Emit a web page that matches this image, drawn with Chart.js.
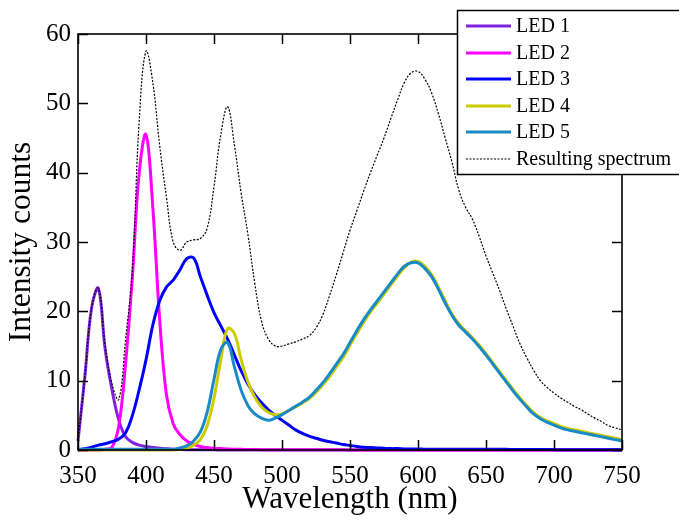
<!DOCTYPE html>
<html>
<head>
<meta charset="utf-8">
<title>LED spectra</title>
<script src="https://cdn.jsdelivr.net/npm/chart.js@4.4.1/dist/chart.umd.min.js"></script>
<style>
  html, body { margin: 0; padding: 0; background: #fff; }
  #spectra { display: block; }
</style>
</head>
<body>
<canvas id="spectra" width="679" height="520"></canvas>
<script>
// wavelength grid, 5 nm steps from 350 to 750
const wavelengths = [
  350, 355, 360, 365, 370, 375, 380, 385, 390, 395,
  400, 405, 410, 415, 420, 425, 430, 435, 440, 445,
  450, 455, 460, 465, 470, 475, 480, 485, 490, 495,
  500, 505, 510, 515, 520, 525, 530, 535, 540, 545,
  550, 555, 560, 565, 570, 575, 580, 585, 590, 595,
  600, 605, 610, 615, 620, 625, 630, 635, 640, 645,
  650, 655, 660, 665, 670, 675, 680, 685, 690, 695,
  700, 705, 710, 715, 720, 725, 730, 735, 740, 745,
  750
];

const led1 = [
  1.3, 10.5, 20.5, 23.3, 14.5, 8.7, 4.3, 1.9, 1.1, 0.7,
  0.5, 0.35, 0.25, 0.18, 0.12, 0.08, 0.05, 0.04, 0.03, 0.02,
  0.02, 0.01, 0, 0, 0, 0, 0, 0, 0, 0,
  0, 0, 0, 0, 0, 0, 0, 0, 0, 0,
  0, 0, 0, 0, 0, 0, 0, 0, 0, 0,
  0, 0, 0, 0, 0, 0, 0, 0, 0, 0,
  0, 0, 0, 0, 0, 0, 0, 0, 0, 0,
  0, 0, 0, 0, 0, 0, 0, 0, 0, 0,
  0
];

const led2 = [
  0, 0, 0, 0, 0.1, 0.4, 3.5, 12.5, 25, 40,
  45.5, 35, 19, 8, 3.8, 2.2, 1.3, 0.8, 0.5, 0.35,
  0.25, 0.2, 0.15, 0.12, 0.1, 0.08, 0.06, 0.05, 0.04, 0.03,
  0.03, 0.02, 0.02, 0.02, 0.02, 0.02, 0.02, 0.02, 0.02, 0.02,
  0.01, 0.01, 0.01, 0.01, 0.01, 0, 0, 0, 0, 0,
  0, 0, 0, 0, 0, 0, 0, 0, 0, 0,
  0, 0, 0, 0, 0, 0, 0, 0, 0, 0,
  0, 0, 0, 0, 0, 0, 0, 0, 0, 0,
  0
];

const led3 = [
  0, 0.2, 0.4, 0.7, 0.9, 1.2, 1.6, 2.5, 5, 8.7,
  13, 18, 21.5, 23.5, 24.5, 26, 27.6, 27.7, 25, 22.3,
  19.8, 17.9, 16, 13.7, 11.4, 9.5, 8, 6.8, 5.8, 5,
  4.3, 3.6, 2.9, 2.4, 2, 1.7, 1.4, 1.2, 1, 0.8,
  0.65, 0.5, 0.4, 0.35, 0.3, 0.25, 0.2, 0.2, 0.15, 0.15,
  0.15, 0.12, 0.12, 0.1, 0.1, 0.1, 0.1, 0.1, 0.1, 0.1,
  0.1, 0.1, 0.1, 0.1, 0.08, 0.08, 0.08, 0.08, 0.08, 0.08,
  0.05, 0.05, 0.05, 0.05, 0.05, 0.05, 0.05, 0.05, 0.05, 0.05,
  0.05
];

const led4 = [
  0, 0, 0, 0, 0, 0, 0, 0, 0, 0,
  0, 0, 0, 0, 0, 0.1, 0.3, 0.7, 1.5, 3.5,
  7.5, 13, 17.5, 16.8, 13, 9.8, 7.6, 6.2, 5.4, 5.1,
  5.2, 5.7, 6.2, 6.8, 7.4, 8.3, 9.4, 10.6, 12, 13.4,
  15.1, 16.8, 18.4, 19.9, 21.2, 22.5, 23.8, 25.1, 26.3, 27.1,
  27.2, 26.5, 25.3, 23.5, 21.5, 19.6, 18.2, 17.2, 16.2, 15.1,
  13.9, 12.6, 11.3, 10, 8.7, 7.5, 6.4, 5.4, 4.7, 4.2,
  3.8, 3.4, 3.1, 2.9, 2.7, 2.5, 2.3, 2.1, 1.9, 1.7,
  1.5
];

const led5 = [
  0.1, 0.1, 0.1, 0.1, 0.1, 0.1, 0.1, 0.1, 0.1, 0.1,
  0.1, 0.1, 0.1, 0.1, 0.1, 0.3, 0.6, 1.3, 2.6, 5.5,
  10.2, 14.5, 15.5, 12, 8.6, 6.4, 5.2, 4.6, 4.3, 4.6,
  5.1, 5.7, 6.3, 6.9, 7.6, 8.6, 9.7, 11, 12.4, 13.8,
  15.5, 17.2, 18.8, 20.2, 21.5, 22.8, 24.1, 25.4, 26.5, 27,
  27, 26.2, 25, 23.2, 21.2, 19.4, 18, 17, 16, 14.9,
  13.7, 12.4, 11.1, 9.8, 8.5, 7.3, 6.2, 5.2, 4.5, 4,
  3.6, 3.2, 2.9, 2.7, 2.5, 2.3, 2.1, 1.9, 1.7, 1.5,
  1.3
];

const resulting = [
  1.3, 10.5, 20.5, 23.3, 15, 9.5, 7.3, 16, 26, 47.5,
  57.5, 53, 44, 36.5, 30, 28.8, 30, 30.3, 30.5, 32,
  38, 45.5, 49.5, 44, 37, 31, 24, 18.5, 16, 15,
  15, 15.3, 15.6, 16, 16.5, 17.6, 19.5, 22.3, 25.3, 28.5,
  31.7, 34.5, 37.3, 40, 42.5, 45, 47.8, 50.5, 53, 54.4,
  54.6, 53.5, 51.5, 48.5, 45, 41.5, 37.5, 35, 33.3, 30.8,
  28, 25.5, 23, 20.3, 17.8, 15.3, 13.3, 11.5, 10, 9,
  8.2, 7.5, 6.9, 6.3, 5.8, 5.2, 4.6, 4.1, 3.5, 3.2,
  2.9
];

const seriesNames = ['LED 1', 'LED 2', 'LED 3', 'LED 4', 'LED 5', 'Resulting spectrum'];
const xTicks = [350, 400, 450, 500, 550, 600, 650, 700, 750];
const yTicks = [0, 10, 20, 30, 40, 50, 60];

const SERIF = '"Liberation Serif", "Times New Roman", Times, serif';
Chart.defaults.font.family = SERIF;
Chart.defaults.color = '#000';

const toPoints = (vals) => vals.map((v, i) => ({ x: wavelengths[i], y: v }));

function ledSet(label, values, color, order) {
  return {
    label,
    data: toPoints(values),
    borderColor: color,
    backgroundColor: color,
    borderWidth: 3,
    pointRadius: 0,
    tension: 0.4,
    clip: 4,
    order
  };
}

const datasets = [
  ledSet(seriesNames[0], led1, '#7f22e0', 6),
  ledSet(seriesNames[1], led2, '#ff00ff', 5),
  ledSet(seriesNames[2], led3, '#0000ff', 4),
  ledSet(seriesNames[3], led4, '#cccc00', 3),
  ledSet(seriesNames[4], led5, '#1a8ac6', 2),
  {
    label: seriesNames[5],
    data: toPoints(resulting),
    borderColor: '#000',
    backgroundColor: '#000',
    borderWidth: 1.2,
    borderDash: [2, 1.5],
    pointRadius: 0,
    tension: 0.4,
    clip: 4,
    order: 1
  }
];

// closed frame with ticks pointing into the plot on all four sides
const frameTicks = {
  id: 'frameTicks',
  afterDatasetsDraw(chart) {
    const { ctx, chartArea: a, scales } = chart;
    const len = 10;
    ctx.save();
    ctx.strokeStyle = '#000';
    ctx.lineWidth = 1.5;
    ctx.beginPath();
    xTicks.forEach((v) => {
      const px = Math.round(scales.x.getPixelForValue(v)) + 0.5;
      ctx.moveTo(px, a.bottom); ctx.lineTo(px, a.bottom - len);
      ctx.moveTo(px, a.top); ctx.lineTo(px, a.top + len);
    });
    yTicks.forEach((v) => {
      const py = Math.round(scales.y.getPixelForValue(v)) + 0.5;
      ctx.moveTo(a.left, py); ctx.lineTo(a.left + len, py);
      ctx.moveTo(a.right, py); ctx.lineTo(a.right - len, py);
    });
    ctx.stroke();
    ctx.lineWidth = 1.6;
    ctx.strokeRect(a.left, a.top, a.right - a.left, a.bottom - a.top);
    ctx.restore();
  }
};

// boxed legend in the top right corner
const boxLegend = {
  id: 'boxLegend',
  afterDraw(chart) {
    const { ctx } = chart;
    const left = 457, top = 10, w = 230, h = 164;
    const rowY = [26, 53, 79, 106, 132, 159];
    ctx.save();
    ctx.fillStyle = '#fff';
    ctx.fillRect(left, top, w, h);
    ctx.strokeStyle = '#000';
    ctx.lineWidth = 1.5;
    ctx.strokeRect(left + 0.5, top + 0.5, w, h);
    ctx.font = '20px ' + SERIF;
    ctx.textBaseline = 'middle';
    ctx.textAlign = 'left';
    chart.data.datasets.forEach((ds, i) => {
      const y = rowY[i];
      ctx.strokeStyle = ds.borderColor;
      ctx.lineWidth = ds.borderWidth;
      ctx.setLineDash(ds.borderDash || []);
      ctx.beginPath();
      ctx.moveTo(466, y);
      ctx.lineTo(511, y);
      ctx.stroke();
      ctx.setLineDash([]);
      ctx.fillStyle = '#000';
      ctx.fillText(ds.label, 516, y + 1);
    });
    ctx.restore();
  }
};

new Chart(document.getElementById('spectra'), {
  type: 'line',
  data: { datasets },
  options: {
    responsive: false,
    animation: false,
    layout: { padding: { top: 34, right: 57, left: 0, bottom: 0 } },
    plugins: {
      legend: { display: false },
      tooltip: { enabled: false }
    },
    scales: {
      x: {
        type: 'linear',
        min: 350,
        max: 750,
        afterBuildTicks: (scale) => { scale.ticks = xTicks.map((v) => ({ value: v })); },
        afterFit: (scale) => { scale.height = 70; },
        grid: { display: false, drawTicks: false },
        border: { display: false },
        ticks: { font: { size: 25 }, padding: 11, maxRotation: 0 },
        title: { display: true, text: 'Wavelength (nm)', font: { size: 31 }, padding: { top: 0, bottom: 2 } }
      },
      y: {
        min: 0,
        max: 60,
        afterBuildTicks: (scale) => { scale.ticks = yTicks.map((v) => ({ value: v })); },
        afterFit: (scale) => { scale.width = 78; },
        grid: { display: false, drawTicks: false },
        border: { display: false },
        ticks: { font: { size: 25 }, padding: 7 },
        title: { display: true, text: 'Intensity counts', font: { size: 31.5 }, padding: { top: 3, bottom: 0 } }
      }
    }
  },
  plugins: [frameTicks, boxLegend]
});
</script>
</body>
</html>
